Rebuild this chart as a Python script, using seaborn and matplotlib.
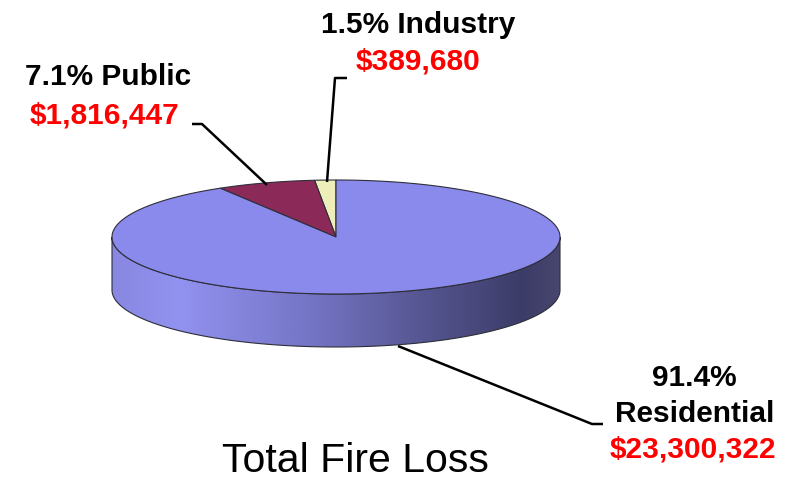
import numpy as np
import matplotlib
matplotlib.use("Agg")
import matplotlib.pyplot as plt
import seaborn as sns
from matplotlib.patches import Polygon
from matplotlib.colors import LinearSegmentedColormap

categories = ["Industry", "Public", "Residential"]
losses = [389680, 1816447, 23300322]
top_colors = ["#EEEEBB", "#8B2A58", "#8A8AEC"]
chart_title = "Total Fire Loss"

# pie geometry in pixel space
CX, CY = 336, 238
RX, RY = 224, 57
DEPTH = 53
EDGE = "#2e2e3a"


def ell(theta_deg, dy=0.0):
    t = np.radians(theta_deg)
    return np.column_stack([CX + RX * np.cos(t), CY - RY * np.sin(t) + dy])


def main():
    sns.set_theme(style="white")
    plt.rcParams["font.family"] = ["Liberation Sans", "DejaVu Sans"]

    fig = plt.figure(figsize=(8.04, 4.85), dpi=100)
    ax = fig.add_axes([0, 0, 1, 1])
    ax.set_xlim(0, 804)
    ax.set_ylim(485, 0)
    ax.axis("off")

    total = sum(losses)
    fracs = [v / total for v in losses]
    starts = 90 + 360 * np.concatenate([[0], np.cumsum(fracs)[:-1]])
    ends = 90 + 360 * np.cumsum(fracs)

    # side wall (front half only, all residential)
    th = np.linspace(180, 360, 200)
    side_pts = np.vstack([ell(th), ell(th[::-1], DEPTH)])
    side = Polygon(side_pts, closed=True, facecolor="none", edgecolor=EDGE, lw=0.8, zorder=3)
    ax.add_patch(side)
    cmap = LinearSegmentedColormap.from_list(
        "side",
        [(0.0, "#8888E2"), (0.15, "#9292F0"), (0.45, "#7474C4"),
         (0.7, "#555590"), (0.92, "#3C3C68"), (1.0, "#46466E")])
    grad = np.linspace(0, 1, 400).reshape(1, -1)
    im = ax.imshow(grad, cmap=cmap, aspect="auto",
                   extent=(CX - RX, CX + RX, CY + DEPTH + RY + 2, CY - 5), zorder=2)
    im.set_clip_path(side)

    # top face wedges
    for s, e, col in zip(starts, ends, top_colors):
        arc = ell(np.linspace(s, e, max(int(e - s) * 2, 8)))
        pts = np.vstack([[CX, CY], arc])
        ax.add_patch(Polygon(pts, closed=True, facecolor=col, edgecolor=EDGE,
                             lw=0.8, zorder=4))

    ax.set_xlim(0, 804)
    ax.set_ylim(485, 0)

    # leader lines
    lk = dict(color="black", lw=1.8, zorder=5, solid_capstyle="butt")
    ax.plot([347, 335, 327], [79, 79, 183], **lk)
    ax.plot([192, 202, 267], [125, 125, 186], **lk)
    ax.plot([603, 592, 398], [425, 425, 347], **lk)

    pct = [f"{f * 100:.1f}%" for f in fracs]
    money = [f"${v:,}" for v in losses]
    bold = dict(fontsize=21.5, fontweight="bold", ha="center", va="center", zorder=6)

    ax.text(418, 25, f"{pct[0]} {categories[0]}", color="black", **bold)
    ax.text(418, 62, money[0], color="#FF0000", **bold)

    ax.text(108, 77, f"{pct[1]} {categories[1]}", color="black", **bold)
    ax.text(105, 115, money[1], color="#FF0000", **bold)

    ax.text(694, 378, pct[2], color="black", **bold)
    ax.text(695, 414, categories[2], color="black", **bold)
    ax.text(693, 450, money[2], color="#FF0000", **bold)

    ax.text(355, 461, chart_title, fontsize=29.5, ha="center", va="center", color="black")

    fig.savefig("out.png", dpi=100, facecolor="white")


if __name__ == "__main__":
    main()
